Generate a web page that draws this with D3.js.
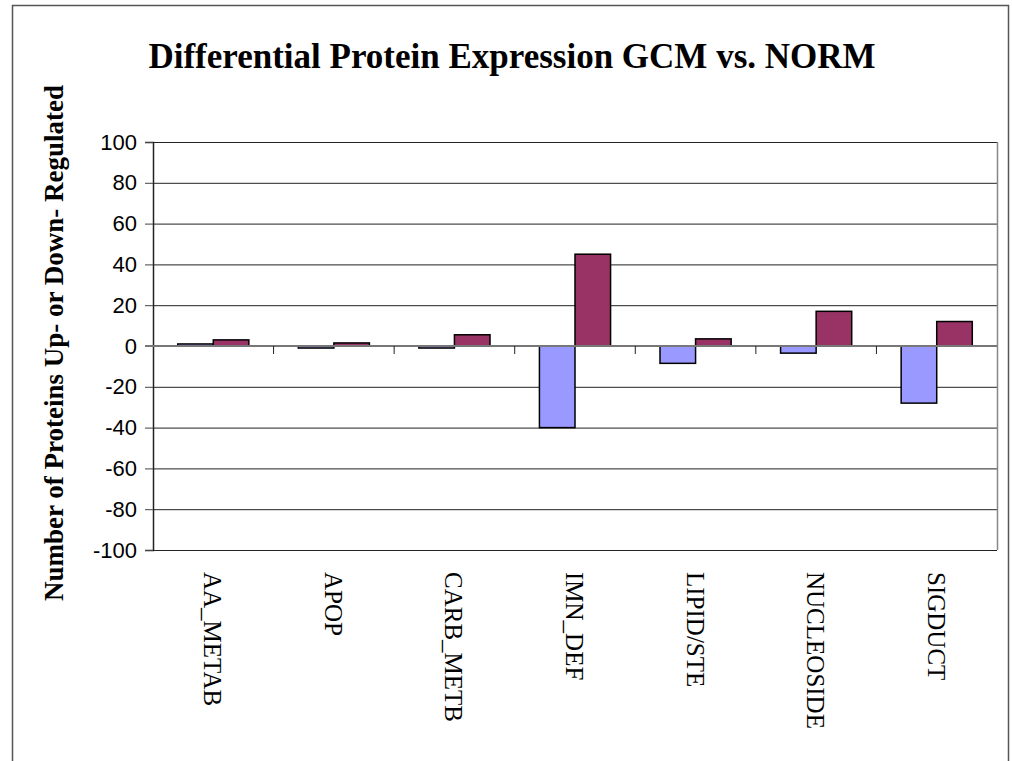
<!DOCTYPE html>
<html>
<head>
    <meta charset="utf-8">
    <script src="https://cdnjs.cloudflare.com/ajax/libs/d3/7.8.5/d3.min.js"></script>
    <style>
        body { margin: 0; background: #fff; }
    </style>
</head>
<body>
<svg width="1012" height="761"></svg>
<script>
    // data
    var categories = ["AA_METAB", "APOP", "CARB_METB", "IMN_DEF", "LIPID/STE", "NUCLEOSIDE", "SIGDUCT"];
    var downValues = [1, -1, -1, -40, -8.5, -3.5, -28];
    var upValues = [3, 1.5, 5.5, 45, 3.5, 17, 12];
    var seriesNames = ["down", "up"];
    var seriesColors = ["#9999FF", "#993366"];
    var yTicks = [-100, -80, -60, -40, -20, 0, 20, 40, 60, 80, 100];

    var svg = d3.select("svg");
    var plotLeft = 153, plotRight = 997, plotTop = 142, plotBottom = 550;

    // outer chart border
    svg.append("rect")
        .attr("x", 12.5).attr("y", 5.5)
        .attr("width", 996).attr("height", 800)
        .attr("fill", "none").attr("stroke", "#555").attr("stroke-width", 1.5);

    var x = d3.scaleBand().domain(categories).range([plotLeft, plotRight]).paddingInner(0.41).paddingOuter(0.205);
    var x1 = d3.scaleBand().domain(seriesNames).range([0, x.bandwidth()]);
    var y = d3.scaleLinear().domain([-100, 100]).range([plotBottom, plotTop]);

    // gridlines
    svg.append("g").selectAll("line")
        .data(yTicks.filter(function (d) { return d !== 0; }))
        .enter().append("line")
        .attr("x1", plotLeft).attr("x2", plotRight)
        .attr("y1", function (d) { return y(d) + 0.5; })
        .attr("y2", function (d) { return y(d) + 0.5; })
        .attr("stroke", "#222").attr("stroke-width", 1);

    // plot area right edge
    svg.append("line")
        .attr("x1", plotRight + 0.5).attr("x2", plotRight + 0.5)
        .attr("y1", plotTop).attr("y2", plotBottom)
        .attr("stroke", "#888").attr("stroke-width", 1.5);

    // y axis (plain hyphen for negatives, as in the original)
    var yAxis = svg.append("g")
        .attr("transform", "translate(" + plotLeft + ",0)")
        .call(d3.axisLeft(y).tickValues(yTicks).tickSize(8).tickPadding(8)
            .tickFormat(function (d) { return String(d); }));
    yAxis.select(".domain").attr("stroke", "#222").attr("stroke-width", 1.5);
    yAxis.selectAll(".tick line").attr("stroke", "#444");
    yAxis.selectAll("text")
        .attr("font-family", "Liberation Sans, Arial, sans-serif")
        .attr("font-size", 22).attr("fill", "#000");

    // bars
    var rows = categories.map(function (c, i) {
        return { cat: c, vals: [downValues[i], upValues[i]] };
    });
    var groups = svg.append("g").selectAll("g")
        .data(rows).enter().append("g")
        .attr("transform", function (d) { return "translate(" + x(d.cat) + ",0)"; });
    groups.selectAll("rect")
        .data(function (d) { return d.vals.map(function (v, j) { return { s: seriesNames[j], v: v, j: j }; }); })
        .enter().append("rect")
        .attr("x", function (d) { return x1(d.s); })
        .attr("width", x1.bandwidth())
        .attr("y", function (d) { return y(Math.max(0, d.v)); })
        .attr("height", function (d) { return Math.abs(y(d.v) - y(0)); })
        .attr("fill", function (d) { return seriesColors[d.j]; })
        .attr("stroke", "#000").attr("stroke-width", 1.5);

    // category axis on the zero line
    var xAxis = svg.append("g")
        .attr("transform", "translate(0," + y(0) + ")")
        .call(d3.axisBottom(x).tickSize(0).tickFormat(""));
    xAxis.select(".domain").attr("stroke", "#777").attr("stroke-width", 2)
        .attr("d", "M" + (plotLeft - 8) + ",0H" + plotRight);
    xAxis.append("g").selectAll("line")
        .data(categories.slice(1))
        .enter().append("line")
        .attr("x1", function (d) { return x(d) - x.step() * x.paddingInner() / 2; })
        .attr("x2", function (d) { return x(d) - x.step() * x.paddingInner() / 2; })
        .attr("y1", 0).attr("y2", 8)
        .attr("stroke", "#222").attr("stroke-width", 1);

    // category labels, rotated
    svg.append("g").selectAll("text")
        .data(categories).enter().append("text")
        .attr("transform", function (d) { return "translate(" + (x(d) + x.bandwidth() / 2 - 9) + ",572) rotate(90)"; })
        .attr("text-anchor", "start")
        .attr("font-family", "Liberation Serif, Times New Roman, serif")
        .attr("font-size", 25)
        .text(function (d) { return d; });

    // title
    svg.append("text")
        .attr("x", 512).attr("y", 68)
        .attr("text-anchor", "middle")
        .attr("font-family", "Liberation Serif, Times New Roman, serif")
        .attr("font-weight", "bold")
        .attr("font-size", 35)
        .text("Differential Protein Expression GCM vs. NORM");

    // y label
    svg.append("text")
        .attr("transform", "translate(63,343) rotate(-90)")
        .attr("text-anchor", "middle")
        .attr("font-family", "Liberation Serif, Times New Roman, serif")
        .attr("font-weight", "bold")
        .attr("font-size", 27)
        .text("Number of Proteins Up- or Down- Regulated");
</script>
</body>
</html>
